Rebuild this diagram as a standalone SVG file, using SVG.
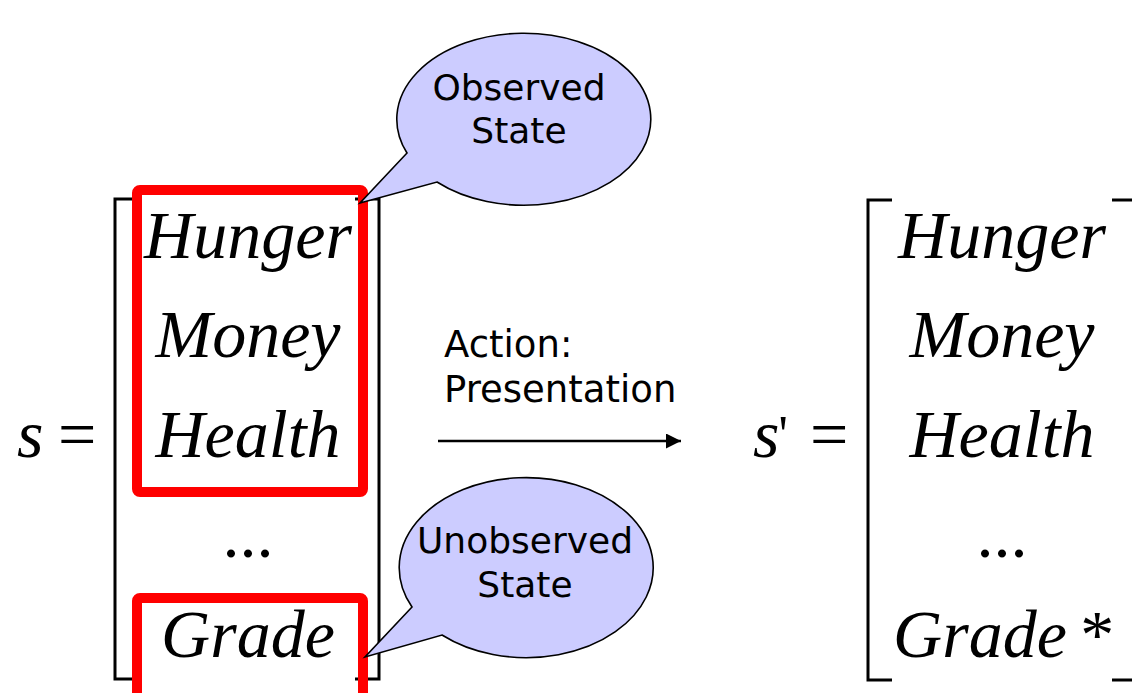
<svg xmlns="http://www.w3.org/2000/svg" width="1132" height="693" viewBox="0 0 1132 693">
  <style>
    .math { font-family: "Liberation Serif", "Times New Roman", serif; font-style: italic; font-size: 68px; fill: #000; }
    .op { font-family: "Liberation Serif", "Times New Roman", serif; font-size: 68px; fill: #000; }
    .sans { font-family: "DejaVu Sans", Verdana, sans-serif; fill: #000; }
    .bracket { fill: none; stroke: #000; stroke-width: 3; }
    .hl { fill: none; stroke: #ff0000; stroke-width: 10; }
    .bubble { fill: #ccccff; stroke: #000; stroke-width: 1.6; stroke-linejoin: miter; }
  </style>
  <defs>
    <marker id="arrowhead" markerWidth="16" markerHeight="16" refX="15" refY="7.5" orient="auto" markerUnits="userSpaceOnUse" viewBox="0 0 16 16">
      <path d="M0,0 L15,7.5 L0,15 Z" fill="#000"/>
    </marker>
  </defs>
  <rect width="1132" height="693" fill="#fff"/>

  <!-- state vector s -->
  <g id="state-s">
    <text class="math" x="17" y="457">s</text>
    <text class="op" x="58" y="457">=</text>
    <path class="bracket" d="M138,199 L115,199 L115,679 L138,679"/>
    <path class="bracket" d="M355,199 L379,199 L379,679 L355,679"/>
    <g text-anchor="middle">
      <text class="math" x="248" y="258">Hunger</text>
      <text class="math" x="248" y="357">Money</text>
      <text class="math" x="248" y="457">Health</text>
      <text class="op" x="248" y="557">...</text>
      <text class="math" x="248" y="657">Grade</text>
    </g>
  </g>

  <!-- observed / unobserved highlights -->
  <g id="observed-box">
    <rect class="hl" x="137" y="190" width="226" height="302" rx="3"/>
  </g>
  <g id="unobserved-box">
    <rect class="hl" x="137" y="598" width="226" height="110" rx="3"/>
  </g>

  <!-- callouts -->
  <g id="callout-observed">
    <path class="bubble" d="M407,153 L360,203 L437,182 A127,86 0 1 0 407,153 Z"/>
    <g class="sans" font-size="36" text-anchor="middle">
      <text x="519" y="100">Observed</text>
      <text x="519" y="143">State</text>
    </g>
  </g>
  <g id="callout-unobserved">
    <path class="bubble" d="M412,607 L365,657 L442,635 A127,90 0 1 0 412,607 Z"/>
    <g class="sans" font-size="36" text-anchor="middle">
      <text x="525" y="553">Unobserved</text>
      <text x="525" y="597">State</text>
    </g>
  </g>

  <!-- transition -->
  <g id="connectors">
    <line x1="438" y1="441" x2="681" y2="441" stroke="#000" stroke-width="2.3" marker-end="url(#arrowhead)"/>
  </g>
  <g id="action-label" class="sans" font-size="37">
    <text x="444" y="357">Action:</text>
    <text x="444" y="402">Presentation</text>
  </g>

  <!-- next state vector s' -->
  <g id="state-s-prime">
    <text class="math" x="753" y="457">s<tspan dx="-1" dy="-5" font-style="normal" font-size="52">'</tspan></text>
    <text class="op" x="810" y="457">=</text>
    <path class="bracket" d="M892,200 L868,200 L868,680 L892,680"/>
    <path class="bracket" d="M1112,200 L1140,200 M1112,680 L1140,680"/>
    <g text-anchor="middle">
      <text class="math" x="1002" y="258">Hunger</text>
      <text class="math" x="1002" y="357">Money</text>
      <text class="math" x="1002" y="457">Health</text>
      <text class="op" x="1002" y="557">...</text>
      <text class="math" x="1002" y="657">Grade<tspan dx="10">*</tspan></text>
    </g>
  </g>
</svg>
